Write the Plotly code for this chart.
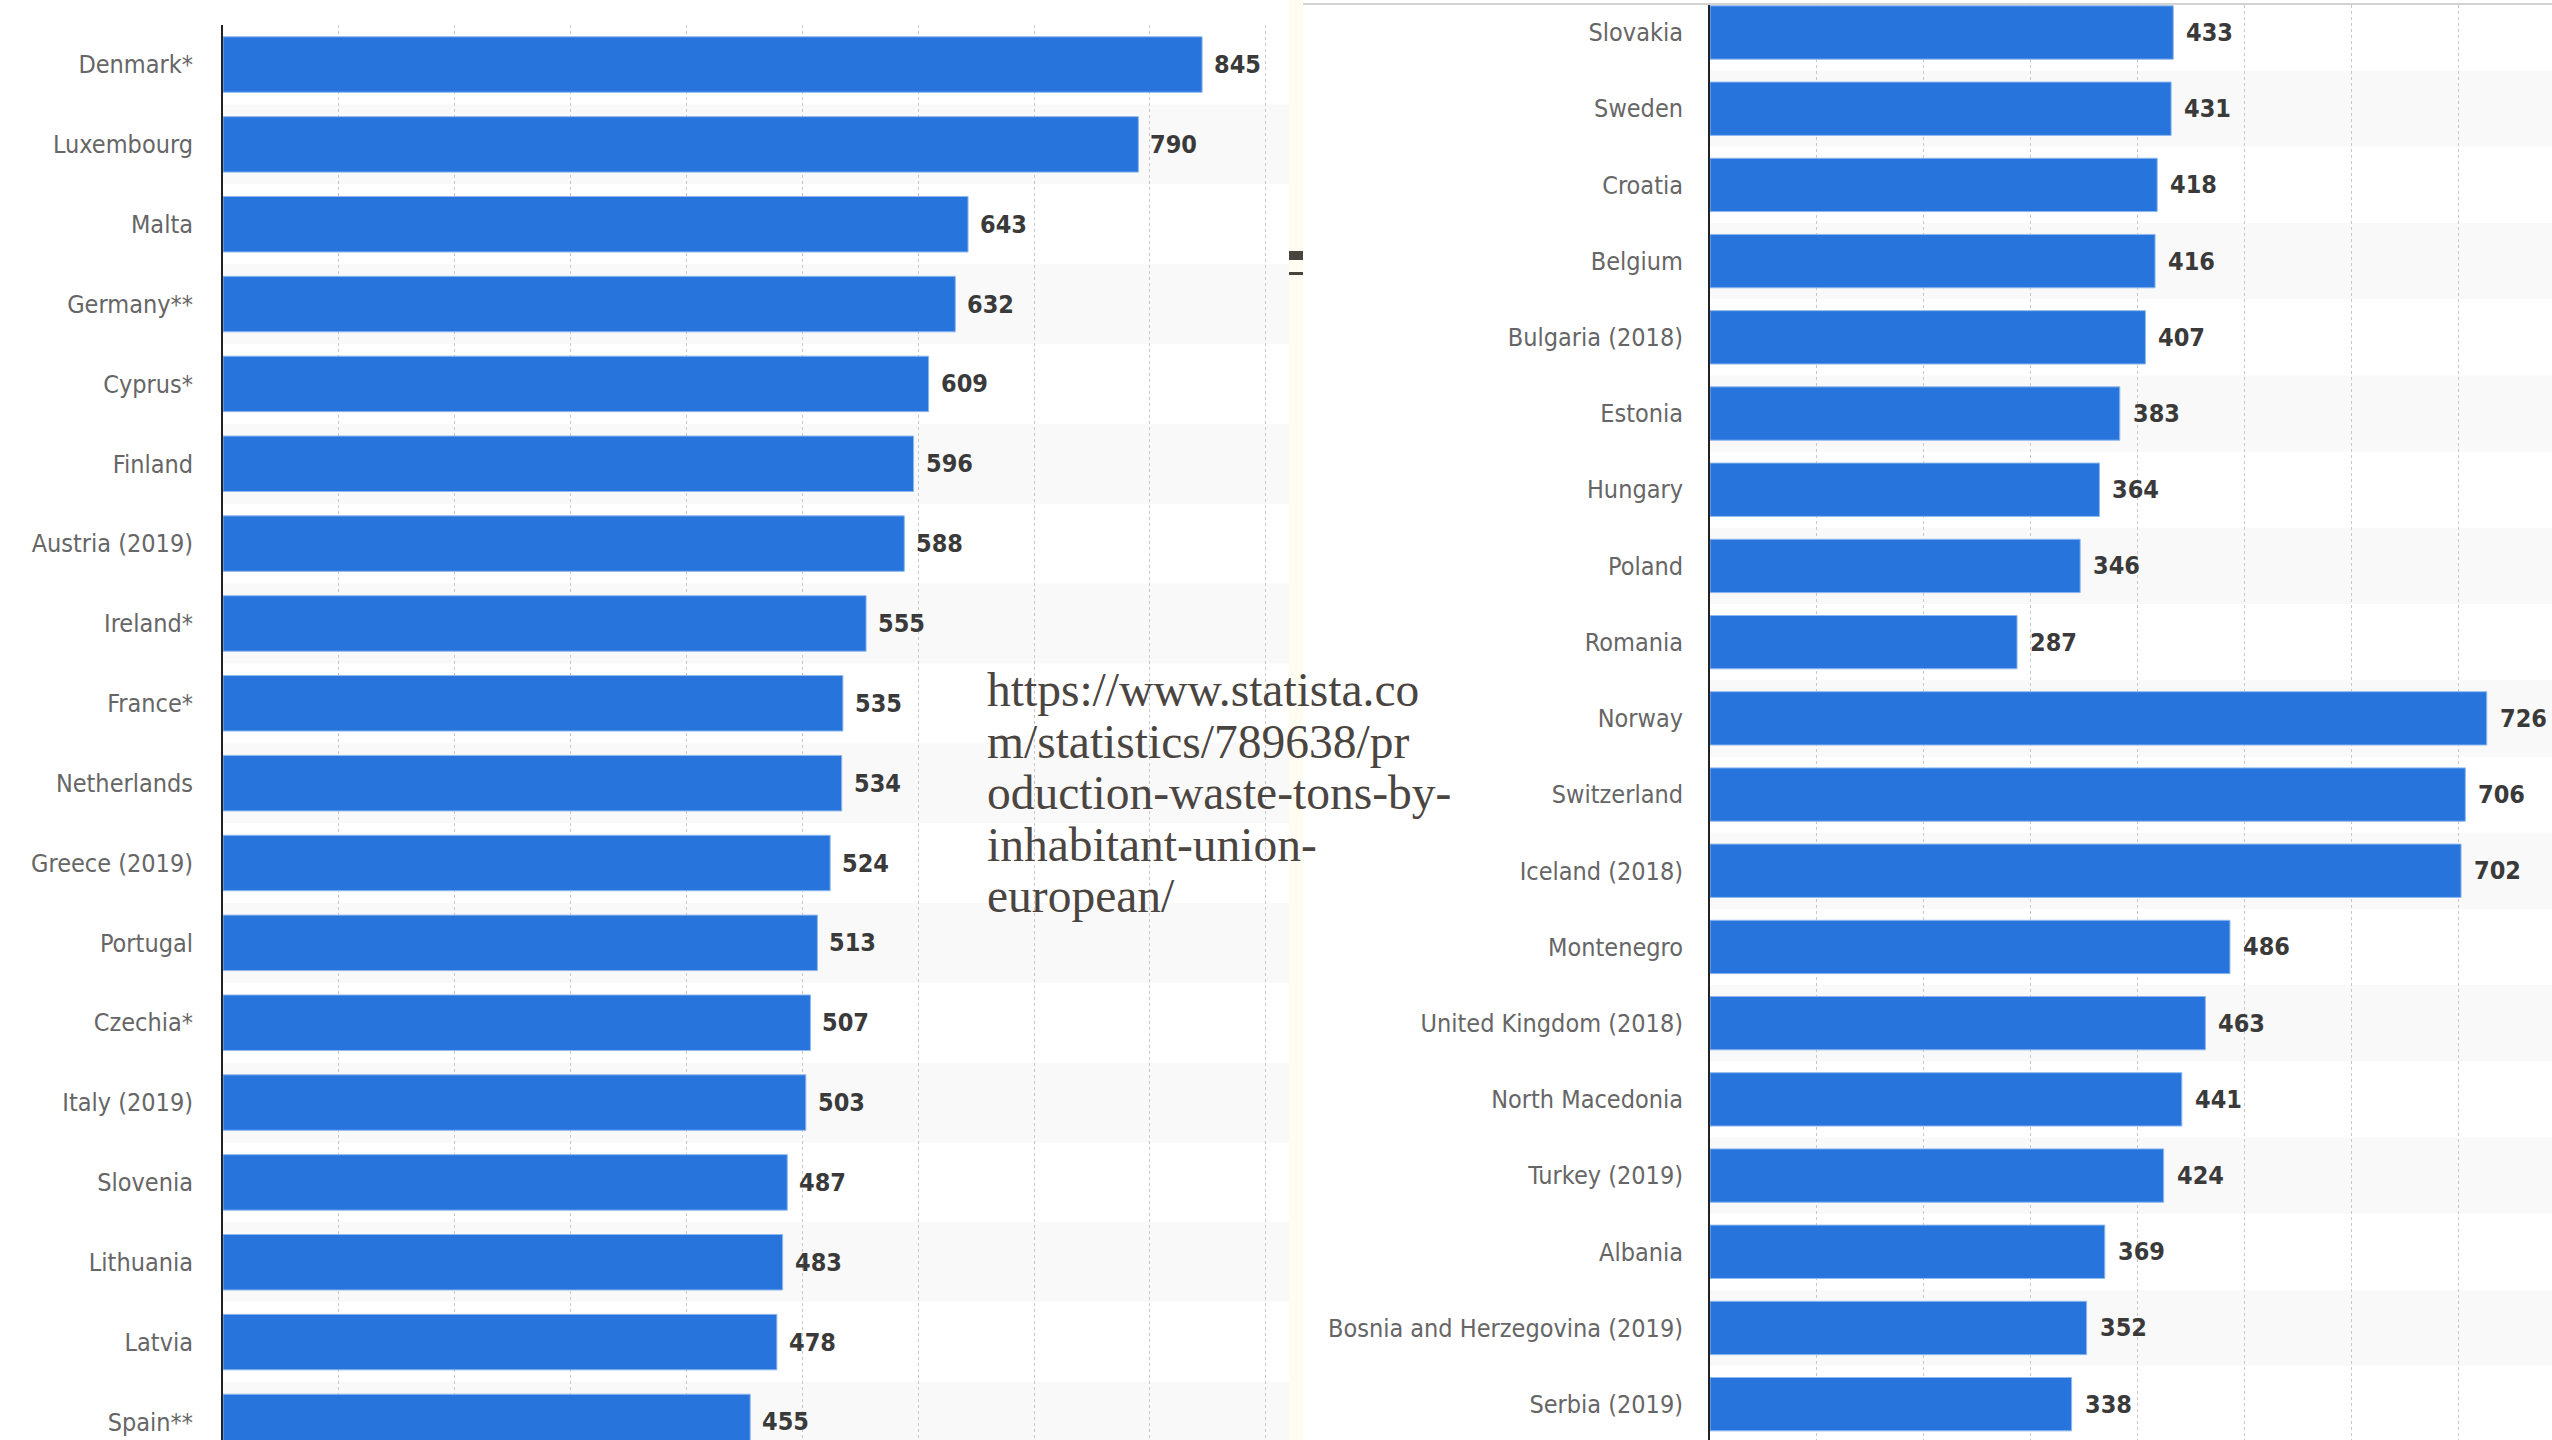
import plotly.graph_objects as go

W, H = 2552, 1440

categories_left = ["Denmark*", "Luxembourg", "Malta", "Germany**", "Cyprus*", "Finland",
                   "Austria (2019)", "Ireland*", "France*", "Netherlands", "Greece (2019)",
                   "Portugal", "Czechia*", "Italy (2019)", "Slovenia", "Lithuania", "Latvia",
                   "Spain**"]
values_left = [845, 790, 643, 632, 609, 596, 588, 555, 535, 534, 524, 513, 507, 503, 487,
               483, 478, 455]

categories_right = ["Slovakia", "Sweden", "Croatia", "Belgium", "Bulgaria (2018)", "Estonia",
                    "Hungary", "Poland", "Romania", "Norway", "Switzerland", "Iceland (2018)",
                    "Montenegro", "United Kingdom (2018)", "North Macedonia", "Turkey (2019)",
                    "Albania", "Bosnia and Herzegovina (2019)", "Serbia (2019)"]
values_right = [433, 431, 418, 416, 407, 383, 364, 346, 287, 726, 706, 702, 486, 463, 441,
                424, 369, 352, 338]

url_lines = ["https://www.statista.co", "m/statistics/789638/pr", "oduction-waste-tons-by-",
             "inhabitant-union-", "european/"]

BLUE = "#2775dc"
LABEL_FONT = dict(family="DejaVu Sans Condensed, DejaVu Sans", size=25, color="#666666")
VALUE_FONT = dict(family="DejaVu Sans Condensed, DejaVu Sans", size=25, color="#3a3a3a",
                  weight="bold")


def px_x(p):
    return p / W


def px_y(p):
    return 1 - p / H


fig = go.Figure()

fig.add_trace(go.Bar(
    x=values_left, y=categories_left, orientation="h", xaxis="x", yaxis="y",
    marker=dict(color=BLUE, line=dict(color="#8fb8ee", width=1)), width=0.695,
    hoverinfo="x+y", showlegend=False,
))
fig.add_trace(go.Bar(
    x=values_right, y=categories_right, orientation="h", xaxis="x2", yaxis="y2",
    marker=dict(color=BLUE, line=dict(color="#8fb8ee", width=1)), width=0.70,
    hoverinfo="x+y", showlegend=False,
))

annotations = []
for c, v in zip(categories_left, values_left):
    annotations.append(dict(x=v, y=c, xref="x", yref="y", text=str(v), showarrow=False,
                            xanchor="left", yanchor="middle", xshift=10, font=VALUE_FONT))
for c, v in zip(categories_right, values_right):
    annotations.append(dict(x=v, y=c, xref="x2", yref="y2", text=str(v), showarrow=False,
                            xanchor="left", yanchor="middle", xshift=11, font=VALUE_FONT))

url_top, url_step = 690, 51.5
for k, line in enumerate(url_lines):
    annotations.append(dict(x=px_x(985), y=px_y(url_top + k * url_step), xref="paper",
                            yref="paper", text=line, showarrow=False, xanchor="left",
                            yanchor="middle",
                            font=dict(family="Liberation Serif, DejaVu Serif", size=47.5,
                                      color="#4b4541")))

shapes = []
for i in range(len(categories_left)):
    if i % 2 == 1:
        shapes.append(dict(type="rect", xref="x domain", yref="y", x0=0, x1=1,
                           y0=i - 0.5, y1=i + 0.5, fillcolor="#f9f9f9", line_width=0,
                           layer="below"))
for i in range(len(categories_right)):
    if i % 2 == 1:
        shapes.append(dict(type="rect", xref="x2 domain", yref="y2", x0=0, x1=1,
                           y0=i - 0.5, y1=i + 0.5, fillcolor="#f9f9f9", line_width=0,
                           layer="below"))

# divider strip between the two screenshots
shapes.append(dict(type="rect", xref="paper", yref="paper", x0=px_x(1289), x1=px_x(1303),
                   y0=0, y1=1, fillcolor="#fffdf1", line_width=0, layer="above"))
# small dark marks on the divider
shapes.append(dict(type="rect", xref="paper", yref="paper", x0=px_x(1289), x1=px_x(1303),
                   y0=px_y(260), y1=px_y(251), fillcolor="#4a4440", line_width=0,
                   layer="above"))
shapes.append(dict(type="rect", xref="paper", yref="paper", x0=px_x(1289), x1=px_x(1303),
                   y0=px_y(275), y1=px_y(272), fillcolor="#4a4440", line_width=0,
                   layer="above"))
# top border line of right screenshot
shapes.append(dict(type="rect", xref="paper", yref="paper", x0=px_x(1303), x1=1,
                   y0=px_y(5), y1=px_y(3), fillcolor="#d3d3d3", line_width=0,
                   layer="above"))

axis_common = dict(showgrid=True, gridcolor="#c8c8c8", griddash="dot", gridwidth=1,
                   dtick=100, tick0=0, showticklabels=False, zeroline=False, ticks="",
                   showline=False, fixedrange=True)
yaxis_common = dict(type="category", showgrid=False, zeroline=False, ticks="",
                    showline=True, linecolor="#222222", linewidth=2, tickfont=LABEL_FONT,
                    fixedrange=True)

fig.update_layout(
    width=W, height=H, margin=dict(l=0, r=0, t=0, b=0), autosize=False,
    paper_bgcolor="white", plot_bgcolor="white", bargap=0.3,
    xaxis=dict(domain=[px_x(223), px_x(1289)], range=[0, 920], anchor="y", **axis_common),
    yaxis=dict(domain=[0, px_y(25)], anchor="x", categoryorder="array",
               categoryarray=categories_left, range=[17.226, -0.495],
               ticklabelstandoff=23, **yaxis_common),
    xaxis2=dict(domain=[px_x(1710), 1], range=[0, 787], anchor="y2", **axis_common),
    yaxis2=dict(domain=[0, px_y(5)], anchor="x2", categoryorder="array",
                categoryarray=categories_right, range=[18.47, -0.361],
                ticklabelstandoff=20, **yaxis_common),
    annotations=annotations, shapes=shapes,
)

fig.write_html("out.html", config={"displayModeBar": False},
               post_script="document.body.style.margin='0px';"
                           "document.body.style.overflow='hidden';")
